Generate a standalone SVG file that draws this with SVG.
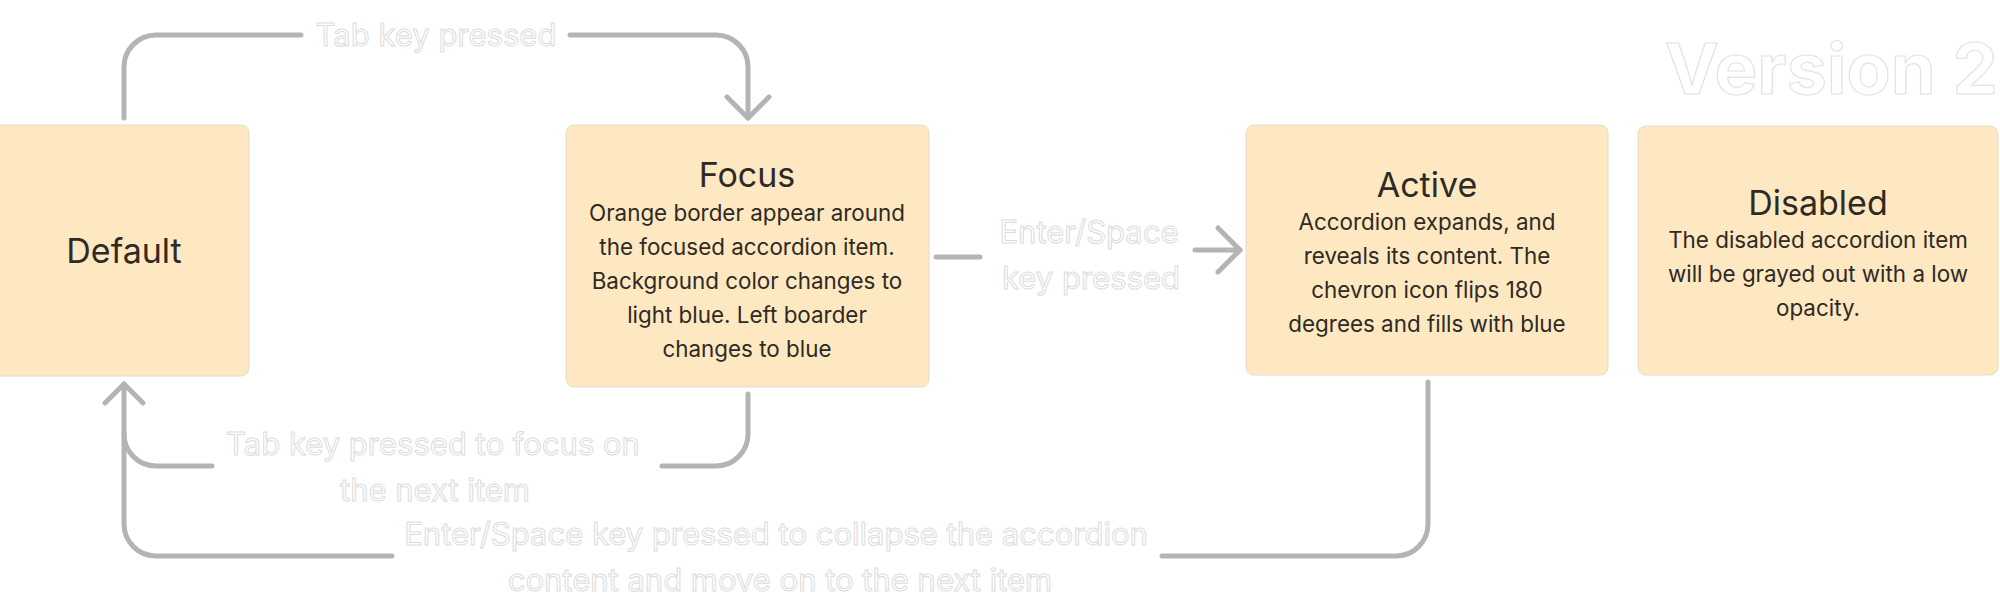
<svg xmlns="http://www.w3.org/2000/svg" width="2000" height="615" viewBox="0 0 2000 615">
  <defs>
    <style>
      .box { fill: #FEE8C1; stroke: #E4DCCB; stroke-width: 1; }
      .title { font-family: Inter, "Liberation Sans", sans-serif; font-size: 34px; font-weight: 400; fill: #2E2A24; text-anchor: middle; }
      .body { font-family: Inter, "Liberation Sans", sans-serif; font-size: 22.4px; fill: #2E2A24; text-anchor: middle; }
      .conn { fill: none; stroke: #B4B4B4; stroke-width: 5; stroke-linecap: round; stroke-linejoin: round; }
      .lbl { font-family: Inter, "Liberation Sans", sans-serif; font-size: 31px; fill: #FFFFFF; stroke: #DCDCDC; stroke-width: 1; text-anchor: middle; }
      .ver { font-family: Inter, "Liberation Sans", sans-serif; font-size: 70px; font-weight: 700; fill: #FFFFFF; stroke: #E3E3E3; stroke-width: 1.2; }
    </style>
  </defs>
  <rect width="2000" height="615" fill="#FFFFFF"/>

  <text class="ver" x="1665" y="94" textLength="333" lengthAdjust="spacingAndGlyphs">Version 2</text>

  <g id="connectors">
    <path class="conn" d="M124,118 V67 A32,32 0 0 1 156,35 H301"/>
    <path class="conn" d="M570,35 H716 A32,32 0 0 1 748,67 V118"/>
    <path class="conn" d="M727,97 L748,118 L769,97"/>
    <text class="lbl" x="436" y="46">Tab key pressed</text>

    <path class="conn" d="M936,257 H980"/>
    <path class="conn" d="M1195,250 H1240"/>
    <path class="conn" d="M1218,228 L1240,250 L1218,272"/>
    <text class="lbl" x="1089" y="243">Enter/Space</text>
    <text class="lbl" x="1091" y="289">key pressed</text>

    <path class="conn" d="M748,394 V434 A32,32 0 0 1 716,466 H662"/>
    <path class="conn" d="M212,466 H156 A32,32 0 0 1 124,434 V384"/>
    <path class="conn" d="M105,403 L124,384 L143,403"/>
    <text class="lbl" x="433" y="455">Tab key pressed to focus on</text>
    <text class="lbl" x="435" y="501">the next item</text>

    <path class="conn" d="M1428,382 V524 A32,32 0 0 1 1396,556 H1162"/>
    <path class="conn" d="M392,556 H156 A32,32 0 0 1 124,524 V434"/>
    <text class="lbl" x="776" y="545">Enter/Space key pressed to collapse the accordion</text>
    <text class="lbl" x="780" y="591">content and move on to the next item</text>
  </g>

  <g id="node-default">
    <rect class="box" x="-8" y="125" width="257" height="251" rx="8"/>
    <text class="title" x="124" y="263">Default</text>
  </g>

  <g id="node-focus">
    <rect class="box" x="566" y="125" width="363" height="262" rx="8"/>
    <text class="title" x="747" y="187">Focus</text>
    <text class="body" x="747" y="221">Orange border appear around</text>
    <text class="body" x="747" y="255">the focused accordion item.</text>
    <text class="body" x="747" y="289">Background color changes to</text>
    <text class="body" x="747" y="323">light blue. Left boarder</text>
    <text class="body" x="747" y="357">changes to blue</text>
  </g>

  <g id="node-active">
    <rect class="box" x="1246" y="125" width="362" height="250" rx="8"/>
    <text class="title" x="1427" y="197">Active</text>
    <text class="body" x="1427" y="230">Accordion expands, and</text>
    <text class="body" x="1427" y="264">reveals its content. The</text>
    <text class="body" x="1427" y="298">chevron icon flips 180</text>
    <text class="body" x="1427" y="332">degrees and fills with blue</text>
  </g>

  <g id="node-disabled">
    <rect class="box" x="1638" y="126" width="360" height="249" rx="8"/>
    <text class="title" x="1818" y="215">Disabled</text>
    <text class="body" x="1818" y="248">The disabled accordion item</text>
    <text class="body" x="1818" y="282">will be grayed out with a low</text>
    <text class="body" x="1818" y="316">opacity.</text>
  </g>
</svg>
